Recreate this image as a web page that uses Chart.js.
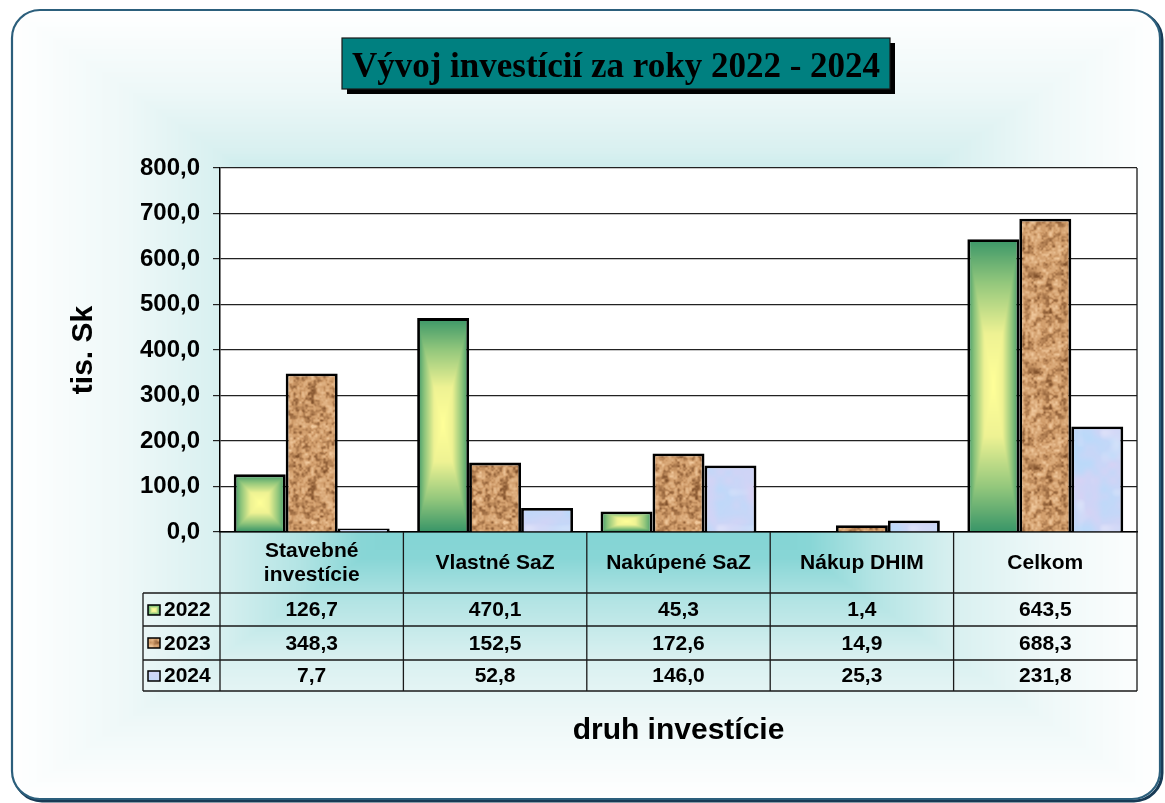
<!DOCTYPE html>
<html>
<head>
<meta charset="utf-8">
<script src="https://cdn.jsdelivr.net/npm/chart.js@4.4.1/dist/chart.umd.min.js"></script>
<style>
  html, body { margin: 0; padding: 0; background: #fff; }
  #wrap { width: 1165px; height: 803px; }
</style>
</head>
<body>
<div id="wrap"><canvas id="chart" width="1165" height="803"></canvas></div>
<script>
// data
const CATEGORIES = [['Stavebné', 'investície'], 'Vlastné SaZ', 'Nakúpené SaZ', 'Nákup DHIM', 'Celkom'];
const YEARS = ['2022', '2023', '2024'];
const V2022 = [126.7, 470.1, 45.3, 1.4, 643.5];
const V2023 = [348.3, 152.5, 172.6, 14.9, 688.3];
const V2024 = [7.7, 52.8, 146.0, 25.3, 231.8];
const Y_MIN = 0, Y_MAX = 800, Y_STEP = 100;
const TITLE = 'Vývoj investícií za roky 2022 - 2024';
const Y_TITLE = 'tis. Sk';
const X_TITLE = 'druh investície';

const SANS = '"Liberation Sans", Arial, sans-serif';
const SERIF = '"Liberation Serif", "Times New Roman", serif';
const fmt = v => v.toFixed(1).replace('.', ',');

// ---- small helpers for the Excel-like fills
function hex(h) { return [parseInt(h.slice(1, 3), 16), parseInt(h.slice(3, 5), 16), parseInt(h.slice(5, 7), 16)]; }
function makeRamp(stops) {
    const s = stops.map(([t, c]) => [t, hex(c)]);
    return t => {
        if (t <= s[0][0]) return s[0][1];
        for (let i = 1; i < s.length; i++) {
            if (t <= s[i][0]) {
                const a = s[i - 1], b = s[i], f = (t - a[0]) / (b[0] - a[0]);
                return [0, 1, 2].map(k => a[1][k] + (b[1][k] - a[1][k]) * f);
            }
        }
        return s[s.length - 1][1];
    };
}
// rectangular "from centre" gradient
function rectGradient(w, h, ramp) {
    const cv = document.createElement('canvas');
    cv.width = w; cv.height = h;
    const c = cv.getContext('2d');
    const img = c.createImageData(w, h);
    for (let y = 0; y < h; y++) {
        for (let x = 0; x < w; x++) {
            const dx = Math.abs(x + 0.5 - w / 2) / (w / 2);
            const dy = Math.abs(y + 0.5 - h / 2) / (h / 2);
            const col = ramp(Math.max(dx, dy));
            const i = (y * w + x) * 4;
            img.data[i] = col[0]; img.data[i + 1] = col[1]; img.data[i + 2] = col[2]; img.data[i + 3] = 255;
        }
    }
    c.putImageData(img, 0, 0);
    return cv;
}
function hash(x, y, s) {
    let h = (Math.imul(x, 374761393) + Math.imul(y, 668265263) + Math.imul(s, 982451653)) | 0;
    h = Math.imul(h ^ (h >>> 13), 1274126177);
    h = h ^ (h >>> 16);
    return (h >>> 0) / 4294967295;
}
function noise(x, y, cell, period, seed) {
    const gx = x / cell, gy = y / cell;
    const x0 = Math.floor(gx), y0 = Math.floor(gy);
    const fx = gx - x0, fy = gy - y0;
    const sx = fx * fx * (3 - 2 * fx), sy = fy * fy * (3 - 2 * fy);
    const p = period / cell;
    const hv = (i, j) => hash(((i % p) + p) % p, ((j % p) + p) % p, seed);
    const a = hv(x0, y0), b = hv(x0 + 1, y0), c = hv(x0, y0 + 1), d = hv(x0 + 1, y0 + 1);
    return a + (b - a) * sx + (c - a) * sy + (a - b - c + d) * sx * sy;
}
function texture(size, colorAt) {
    const cv = document.createElement('canvas');
    cv.width = size; cv.height = size;
    const c = cv.getContext('2d');
    const img = c.createImageData(size, size);
    for (let y = 0; y < size; y++) {
        for (let x = 0; x < size; x++) {
            const col = colorAt(x, y);
            const i = (y * size + x) * 4;
            img.data[i] = col[0]; img.data[i + 1] = col[1]; img.data[i + 2] = col[2]; img.data[i + 3] = 255;
        }
    }
    c.putImageData(img, 0, 0);
    return cv;
}
const mix = (a, b, f) => [0, 1, 2].map(k => a[k] + (b[k] - a[k]) * f);
const clamp = v => Math.max(0, Math.min(1, v));

const greenRamp = makeRamp([[0, '#ffff98'], [0.35, '#eef293'], [0.7, '#93c77c'], [1, '#3a9668']]);
const bgRamp = makeRamp([[0, '#6ccdcd'], [0.39, '#88d6d6'], [0.5, '#b3e4e4'], [0.64, '#d8f0f0'], [0.8, '#eef8f8'], [1, '#ffffff']]);

// cork texture for 2023
const corkTile = texture(96, (x, y) => {
    const n = 0.4 * noise(x, y, 3, 96, 1) + 0.35 * noise(x, y, 6, 96, 2) + 0.25 * noise(x, y, 2, 96, 3);
    const m = Math.max(-1, Math.min(1, (n - 0.5) * 2.8));
    const base = [208, 156, 106];
    return m < 0 ? mix(base, [130, 82, 44], -m) : mix(base, [240, 200, 156], m);
});
// pale blue marble for 2024
const marbleTile = texture(96, (x, y) => {
    const n = 0.5 * noise(x, y, 32, 96, 4) + 0.3 * noise(x, y, 16, 96, 5) + 0.2 * noise(x, y, 8, 96, 6);
    const c = mix([184, 218, 250], [216, 210, 244], clamp((n - 0.3) * 2));
    return mix(c, [232, 238, 252], clamp((noise(x, y, 12, 96, 7) - 0.6) * 1.2));
});

const ctx0 = document.getElementById('chart').getContext('2d');
const corkPattern = ctx0.createPattern(corkTile, 'repeat');
const marblePattern = ctx0.createPattern(marbleTile, 'repeat');

// background of the whole chart
const FRAME = { x: 12, y: 10, w: 1148, h: 789, r: 28 };
const bgCanvas = rectGradient(FRAME.w, FRAME.h, bgRamp);

const backgroundPlugin = {
    id: 'background',
    beforeDraw(chart) {
        const { ctx, chartArea: a } = chart;
        ctx.save();
        ctx.fillStyle = '#fff';
        ctx.fillRect(0, 0, chart.width, chart.height);
        // shadow of frame
        ctx.beginPath();
        ctx.roundRect(FRAME.x + 2, FRAME.y + 2, FRAME.w, FRAME.h, FRAME.r);
        ctx.lineWidth = 3;
        ctx.strokeStyle = '#183a55';
        ctx.stroke();
        ctx.beginPath();
        ctx.roundRect(FRAME.x, FRAME.y, FRAME.w, FRAME.h, FRAME.r);
        ctx.save();
        ctx.clip();
        ctx.drawImage(bgCanvas, FRAME.x, FRAME.y);
        ctx.restore();
        ctx.lineWidth = 2.2;
        ctx.strokeStyle = '#2c5f7c';
        ctx.stroke();
        // white plot area
        ctx.fillStyle = '#fff';
        ctx.fillRect(a.left, a.top, a.right - a.left, a.bottom - a.top);
        ctx.restore();
    },
    beforeDatasetsDraw(chart) {
        // the 2022 bars get their own centre gradient, sized to each bar
        const meta = chart.getDatasetMeta(0);
        meta.data.forEach(el => {
            const { x, y, base, width } = el.getProps(['x', 'y', 'base', 'width'], true);
            const top = Math.min(y, base), h = Math.abs(base - y);
            const left = x - width / 2;
            const cv = rectGradient(Math.max(1, Math.round(width)), Math.max(1, Math.round(h)), greenRamp);
            const pat = chart.ctx.createPattern(cv, 'no-repeat');
            pat.setTransform(new DOMMatrix([1, 0, 0, 1, left, top]));
            el.options.backgroundColor = pat;
        });
    }
};

const tablePlugin = {
    id: 'dataTable',
    afterDraw(chart) {
        const { ctx, chartArea: a } = chart;
        const xs = chart.scales.x;
        const n = CATEGORIES.length;
        const colW = (a.right - a.left) / n;
        const rowHeadLeft = 143;
        const headTop = a.bottom, headBot = a.bottom + 61;
        const rowTops = [headBot, headBot + 33, headBot + 67, headBot + 98];
        const series = [V2022, V2023, V2024];

        ctx.save();
        // right edge of the plot frame
        ctx.strokeStyle = '#1a1a1a';
        ctx.lineWidth = 1.3;
        ctx.beginPath();
        ctx.moveTo(a.right, a.top); ctx.lineTo(a.right, rowTops[3]);
        // horizontal table rules
        rowTops.forEach(y => { ctx.moveTo(rowHeadLeft, y); ctx.lineTo(a.right, y); });
        // vertical rules
        ctx.moveTo(rowHeadLeft, headBot); ctx.lineTo(rowHeadLeft, rowTops[3]);
        ctx.moveTo(a.left, headTop); ctx.lineTo(a.left, rowTops[3]);
        for (let i = 1; i < n; i++) {
            const xe = xs.getPixelForValue(i) - colW / 2;
            ctx.moveTo(xe, headTop); ctx.lineTo(xe, rowTops[3]);
        }
        ctx.stroke();

        ctx.fillStyle = '#000';
        ctx.font = 'bold 21px ' + SANS;
        ctx.textAlign = 'center';
        ctx.textBaseline = 'middle';
        // category headers
        CATEGORIES.forEach((cat, i) => {
            const cx = xs.getPixelForValue(i);
            const lines = Array.isArray(cat) ? cat : [cat];
            const mid = (headTop + headBot) / 2 + 1;
            lines.forEach((ln, k) => {
                ctx.fillText(ln, cx, mid + (k - (lines.length - 1) / 2) * 24);
            });
        });
        // values
        series.forEach((vals, r) => {
            const cy = (rowTops[r] + rowTops[r + 1]) / 2 + 1;
            vals.forEach((v, i) => ctx.fillText(fmt(v), xs.getPixelForValue(i), cy));
        });
        // row headers with legend keys
        const keyFills = [null, corkPattern, marblePattern];
        YEARS.forEach((yr, r) => {
            const cy = (rowTops[r] + rowTops[r + 1]) / 2;
            const kx = 148, ky = Math.round(cy - 5);
            if (r === 0) ctx.drawImage(rectGradient(12, 10, greenRamp), kx, ky);
            else { ctx.fillStyle = keyFills[r]; ctx.fillRect(kx, ky, 12, 10); }
            ctx.strokeStyle = '#000';
            ctx.lineWidth = 1.5;
            ctx.strokeRect(kx, ky, 12, 10);
            ctx.fillStyle = '#000';
            ctx.textAlign = 'left';
            ctx.fillText(yr, 164, cy + 1);
        });

        // title box
        const tb = { x: 342, y: 38, w: 548, h: 51 };
        ctx.fillStyle = '#000';
        ctx.fillRect(tb.x + 5, tb.y + 5, tb.w, tb.h);
        ctx.fillStyle = '#008080';
        ctx.fillRect(tb.x, tb.y, tb.w, tb.h);
        ctx.strokeStyle = '#1a1a1a';
        ctx.lineWidth = 1.2;
        ctx.strokeRect(tb.x, tb.y, tb.w, tb.h);
        ctx.fillStyle = '#000';
        ctx.font = 'bold 35px ' + SERIF;
        ctx.textAlign = 'center';
        ctx.textBaseline = 'alphabetic';
        ctx.fillText(TITLE, tb.x + tb.w / 2, tb.y + 39);
        ctx.restore();
    }
};

new Chart(ctx0, {
    type: 'bar',
    data: {
        labels: CATEGORIES,
        datasets: [
            { label: YEARS[0], data: V2022, backgroundColor: () => '#3a9668' },
            { label: YEARS[1], data: V2023, backgroundColor: corkPattern },
            { label: YEARS[2], data: V2024, backgroundColor: marblePattern }
        ]
    },
    options: {
        responsive: false,
        animation: false,
        layout: { padding: { top: 168, right: 28, bottom: 0, left: 0 } },
        datasets: {
            bar: {
                borderColor: '#000',
                borderWidth: 2.8,
                categoryPercentage: 0.85,
                barPercentage: 1
            }
        },
        plugins: {
            legend: { display: false },
            tooltip: { enabled: false },
            title: { display: false }
        },
        scales: {
            x: {
                ticks: { display: false },
                grid: { display: false },
                border: { color: '#000', width: 1.5 },
                title: {
                    display: true, text: X_TITLE, color: '#000',
                    font: { family: SANS, size: 30, weight: 'bold' },
                    padding: { top: 0, bottom: 54 }
                },
                afterFit: s => { s.height = 271; }
            },
            y: {
                min: Y_MIN, max: Y_MAX,
                ticks: {
                    stepSize: Y_STEP, color: '#000', padding: 13,
                    font: { family: SANS, size: 24, weight: 'bold' },
                    callback: v => fmt(v)
                },
                grid: { color: '#222', lineWidth: 1.2, tickLength: 7 },
                border: { color: '#000', width: 1.5 },
                title: {
                    display: true, text: Y_TITLE, color: '#000',
                    font: { family: SANS, size: 30, weight: 'bold' },
                    padding: { top: 66, bottom: 0 }
                },
                afterFit: s => { s.width = 220; }
            }
        }
    },
    plugins: [backgroundPlugin, tablePlugin]
});
</script>
</body>
</html>
